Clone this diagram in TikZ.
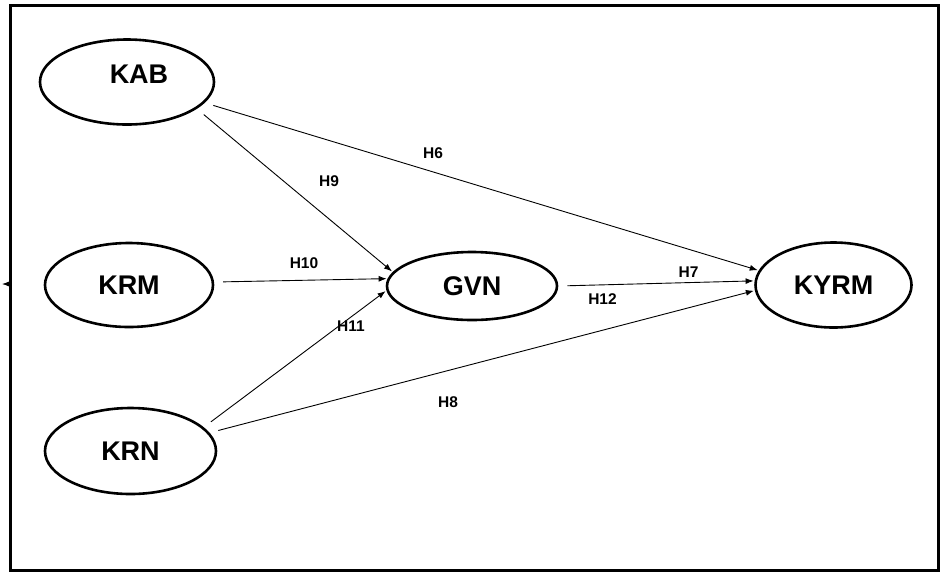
\documentclass[tikz,border=0pt]{standalone}
\usepackage{fontspec}
\setmainfont{Liberation Sans}
\usetikzlibrary{shapes.geometric,arrows.meta}
\begin{document}
\begin{tikzpicture}[x=1pt,y=-1pt,
  latent/.style={ellipse,draw,line width=2.6pt,inner sep=0pt,font=\fontsize{27}{30}\selectfont\bfseries},
  nodetext/.style={inner sep=0pt,font=\fontsize{27}{30}\selectfont\bfseries},
  pathline/.style={line width=0.9pt,-{Latex[length=8pt,width=6pt]},shorten <=9pt,shorten >=1pt},
  hyp/.style={font=\fontsize{15.5}{17}\selectfont\bfseries,inner sep=0pt}]
\useasboundingbox (0,0) rectangle (941,574);
\draw[line width=3pt] (10,5) rectangle (938,570);
% latent variables
\node[latent,minimum width=174pt,minimum height=85pt] (kab) at (127,82) {};
\node[nodetext] (kabtext) at (139,74) {KAB};
\node[latent,minimum width=168pt,minimum height=84pt] (krm) at (129,285) {KRM};
\node[latent,minimum width=171pt,minimum height=86pt] (krn) at (130.5,451) {KRN};
\node[latent,minimum width=170pt,minimum height=68pt] (gvn) at (472,286) {GVN};
\node[latent,minimum width=156pt,minimum height=85pt] (kyrm) at (833.5,285) {KYRM};
% paths
\draw[pathline] (kab.-15) -- (kyrm.169);
\draw[pathline] (kab.-21) -- (gvn.170);
\draw[pathline] (krm.2) -- (gvn.175);
\draw[pathline] (krn.18) -- (gvn.183);
\draw[pathline] (krn.13) -- (kyrm.184);
\draw[pathline] (gvn.0.6) -- (kyrm.177);
% labels
\node[hyp] (h6) at (433,153) {H6};
\node[hyp] (h9) at (329,181) {H9};
\node[hyp] (h10) at (304,263.5) {H10};
\node[hyp] (h11) at (351,326) {H11};
\node[hyp] (h8) at (448,402) {H8};
\node[hyp] (h7) at (688.5,272) {H7};
\node[hyp] (h12) at (602.5,299.5) {H12};
% small arrow on the left border
\coordinate (leftbase) at (10,284);
\coordinate (lefttip) at (2,284);
\draw[line width=0.8pt,-{Latex[length=7pt,width=5pt]}] (leftbase) -- (lefttip);
\end{tikzpicture}
\end{document}
